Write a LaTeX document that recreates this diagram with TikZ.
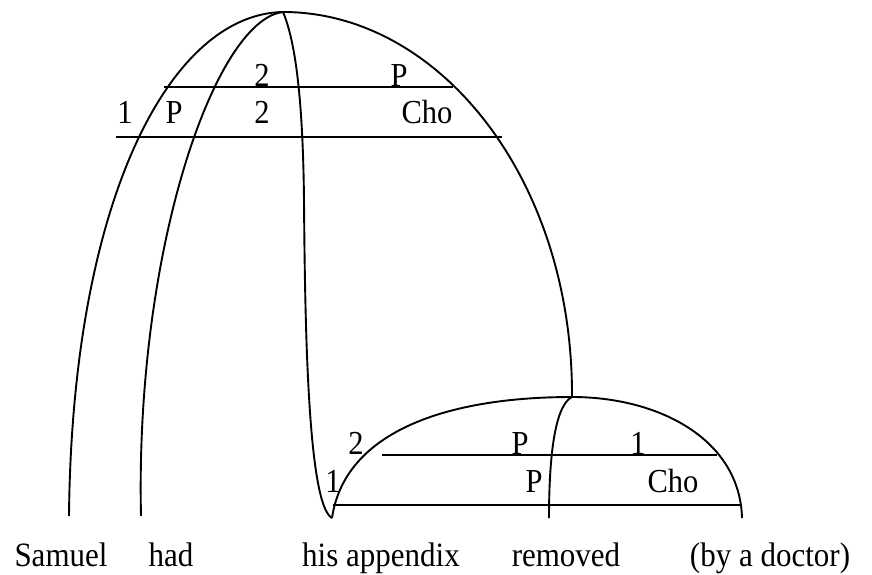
\documentclass[tikz,border=0pt]{standalone}
\usepackage{fontspec}
\setmainfont{Liberation Serif}
\newcommand{\tallword}[1]{\scalebox{1}[1.1]{#1}}
\tikzset{
  word/.style={
    anchor=base,
    inner sep=0pt,
    font=\fontsize{31}{36}\selectfont
  },
  tag/.style={
    anchor=base,
    inner sep=0pt,
    font=\fontsize{30.5}{36}\selectfont
  },
  branch/.style={line width=1.9pt},
  bar/.style={line width=1.9pt}
}

\begin{document}
\begin{tikzpicture}[x=1pt,y=-1pt]
  \useasboundingbox (0,0) rectangle (872,575);
  \coordinate (top) at (283,12);
  \coordinate (low) at (572,397);
  \coordinate (samuelfoot) at (69,516);
  \coordinate (hadfoot) at (141,516);
  \coordinate (hook) at (332,518);
  \coordinate (removedfoot) at (549,518);
  \coordinate (doctorfoot) at (742,518);
  \node[word] (samuel) at (61,566) {\tallword{Samuel}};
  \node[word] (had) at (171,566) {\tallword{had}};
  \node[word] (appendix) at (381,566) {\tallword{his appendix}};
  \node[word] (removed) at (566,566) {\tallword{removed}};
  \node[word] (doctor) at (770,566) {\tallword{(by a doctor)}};
  \node[tag] (topTwo) at (262,87) {\tallword{2}};
  \node[tag] (topP) at (399,87) {\tallword{P}};
  \node[tag] (midOne) at (125,124) {\tallword{1}};
  \node[tag] (midP) at (174,124) {\tallword{P}};
  \node[tag] (midTwo) at (262,124) {\tallword{2}};
  \node[tag] (midCho) at (427,124) {\tallword{Cho}};
  \node[tag] (lowTwo) at (356,454) {\tallword{2}};
  \node[tag] (lowP) at (520,454) {\tallword{P}};
  \node[tag] (lowOne) at (638,454) {\tallword{1}};
  \node[tag] (baseOne) at (333,492) {\tallword{1}};
  \node[tag] (baseP) at (534,492) {\tallword{P}};
  \node[tag] (baseCho) at (673,492) {\tallword{Cho}};
  \draw[bar] (164,87) -- (453,87);
  \draw[bar] (116,137) -- (502,137);
  \draw[bar] (382,455) -- (717,455);
  \draw[bar] (333,505) -- (742,505);
  \draw[branch] (top) .. controls (170,14) and (72,200) .. (samuelfoot);
  \draw[branch] (top) .. controls (215,20) and (135,250) .. (hadfoot);
  \draw[branch] (top) .. controls (297,45) and (303,110) .. (304,200)
    .. controls (305,330) and (308,505) .. (hook);
  \draw[branch] (top) .. controls (440,12) and (573,180) .. (low);
  \draw[branch] (hook) .. controls (345,430) and (450,397) .. (low)
    .. controls (660,397) and (740,440) .. (doctorfoot);
  \draw[branch] (low) .. controls (556,405) and (549,450) .. (removedfoot);
\end{tikzpicture}
\end{document}
